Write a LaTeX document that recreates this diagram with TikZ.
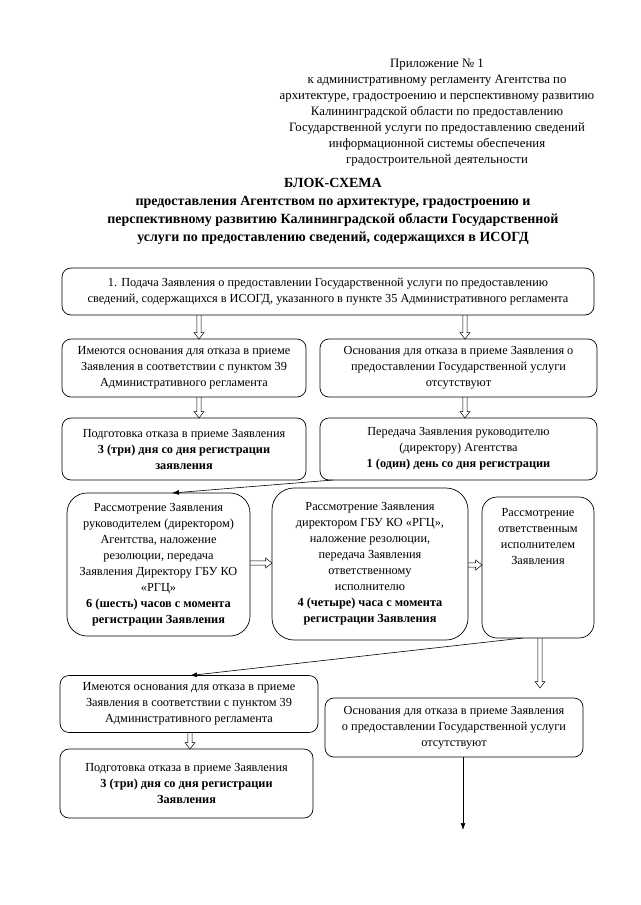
\documentclass[tikz,border=0pt]{standalone}
\usepackage{fontspec}
\setmainfont{Liberation Serif}
\usetikzlibrary{arrows.meta,calc}
\newcommand{\boxfont}{\fontsize{12.3}{16}\selectfont}
\tikzset{
  box/.style={draw, line width=0.7pt, rounded corners=9pt, align=center, inner sep=0pt, outer sep=0pt, font=\boxfont},
  bigbox/.style={box, rounded corners=20pt},
  txt/.style={align=center, inner sep=0pt, font=\boxfont},
  vblock/.style={draw, line width=0.5pt, to path={let \p1=(\tikztostart), \p2=(\tikztotarget) in
     (\x1-2.2pt,\y1) -- (\x1-2.2pt,\y2+6.5pt) -- (\x1-5pt,\y2+6.5pt) -- (\x1,\y2) -- (\x1+5pt,\y2+6.5pt) -- (\x1+2.2pt,\y2+6.5pt) -- (\x1+2.2pt,\y1)}},
  hblock/.style={draw, line width=0.5pt, to path={let \p1=(\tikztostart), \p2=(\tikztotarget) in
     (\x1,\y1+2.2pt) -- (\x2-6.5pt,\y1+2.2pt) -- (\x2-6.5pt,\y1+5pt) -- (\x2,\y1) -- (\x2-6.5pt,\y1-5pt) -- (\x2-6.5pt,\y1-2.2pt) -- (\x1,\y1-2.2pt)}},
  farrow/.style={draw, line width=0.6pt, -{Latex[length=7pt,width=5pt]}}
}
\begin{document}
\begin{tikzpicture}[x=1pt,y=-1pt]
\useasboundingbox[fill=white] (0,0) rectangle (640,905);

% header
\node[align=center, inner sep=0pt, font=\fontsize{12.8}{16}\selectfont] (hdr) at (437,113)
 {Приложение № 1\\к административному регламенту Агентства по\\архитектуре, градостроению и перспективному развитию\\Калининградской области по предоставлению\\Государственной услуги по предоставлению сведений\\информационной системы обеспечения\\градостроительной деятельности};

\node[align=center, inner sep=0pt, font=\bfseries\fontsize{14}{18}\selectfont] (ttl) at (333,211)
 {БЛОК-СХЕМА\\предоставления Агентством по архитектуре, градостроению и\\перспективному развитию Калининградской области Государственной\\услуги по предоставлению сведений, содержащихся в ИСОГД};

% coordinates
\coordinate (xa) at (199,0);
\coordinate (xb) at (465,0);
\coordinate (xc) at (172,0);
\coordinate (xs) at (333,0);
\coordinate (xd) at (523,0);
\coordinate (xe) at (190,0);
\coordinate (xf) at (540,0);
\coordinate (xg) at (463,0);
\coordinate (ya) at (0,563);
\coordinate (yb) at (0,565);
\coordinate (endf) at (540,688);
\coordinate (endg) at (463,830);

% boxes
\node[box, minimum width=532, minimum height=47] (b1) at (328,291.5)
 {1. Подача Заявления о предоставлении Государственной услуги по предоставлению\\сведений, содержащихся в ИСОГД, указанного в пункте 35 Административного регламента};
\node[box, minimum width=244, minimum height=58] (b2l) at (184,368)
 {Имеются основания для отказа в приеме\\Заявления в соответствии с пунктом 39\\Административного регламента};
\node[box, minimum width=277, minimum height=58] (b2r) at (458.5,368)
 {Основания для отказа в приеме Заявления о\\предоставлении Государственной услуги\\отсутствуют};
\node[box, minimum width=244, minimum height=62] (b3l) at (184,449)
 {Подготовка отказа в приеме Заявления\\\textbf{3 (три) дня со дня регистрации}\\\textbf{заявления}};
\node[box, minimum width=277, minimum height=62] (b3r) at (458.5,449)
 {Передача Заявления руководителю\\(директору) Агентства\\\textbf{1 (один) день со дня регистрации}};
\node[bigbox, minimum width=183, minimum height=143] (b4l) at (158.5,564.5)
 {Рассмотрение Заявления\\руководителем (директором)\\Агентства, наложение\\резолюции, передача\\Заявления Директору ГБУ КО\\«РГЦ»\\\textbf{6 (шесть) часов с момента}\\\textbf{регистрации Заявления}};
\node[bigbox, rounded corners=22pt, minimum width=196, minimum height=152] (b4m) at (370,564)
 {Рассмотрение Заявления\\директором ГБУ КО «РГЦ»,\\наложение резолюции,\\передача Заявления\\ответственному\\исполнителю\\\textbf{4 (четыре) часа с момента}\\\textbf{регистрации Заявления}};
\node[box, rounded corners=15pt, minimum width=112, minimum height=141] (b4r) at (538,567.5) {};
\node[txt, anchor=north] (b4rt) at ($(b4r.north)+(0,11)$)
 {Рассмотрение\\ответственным\\исполнителем\\Заявления};
\node[box, minimum width=258, minimum height=57] (b5l) at (189,704)
 {Имеются основания для отказа в приеме\\Заявления в соответствии с пунктом 39\\Административного регламента};
\node[box, minimum width=258, minimum height=59] (b5r) at (454,727.5)
 {Основания для отказа в приеме Заявления\\о предоставлении Государственной услуги\\отсутствуют};
\node[box, minimum width=253, minimum height=69] (b6l) at (186.5,783.5)
 {Подготовка отказа в приеме Заявления\\\textbf{3 (три) дня со дня регистрации}\\\textbf{Заявления}};

% block arrows
\path[vblock] (b1.south -| xa) to (b2l.north -| xa);
\path[vblock] (b1.south -| xb) to (b2r.north -| xb);
\path[vblock] (b2l.south -| xa) to (b3l.north -| xa);
\path[vblock] (b2r.south -| xb) to (b3r.north -| xb);
\path[hblock] (b4l.east |- ya) to (b4m.west |- ya);
\path[hblock] (b4m.east |- yb) to (b4r.west |- yb);
\path[vblock] (b4r.south -| xf) to (endf);
\path[vblock] (b5l.south -| xe) to (b6l.north -| xe);

% filled arrows
\draw[farrow] (b3r.south -| xs) -- (b4l.north -| xc);
\draw[farrow] (b4r.south -| xd) -- (b5l.north -| xe);
\draw[farrow] (b5r.south -| xg) -- (endg);
\end{tikzpicture}
\end{document}
